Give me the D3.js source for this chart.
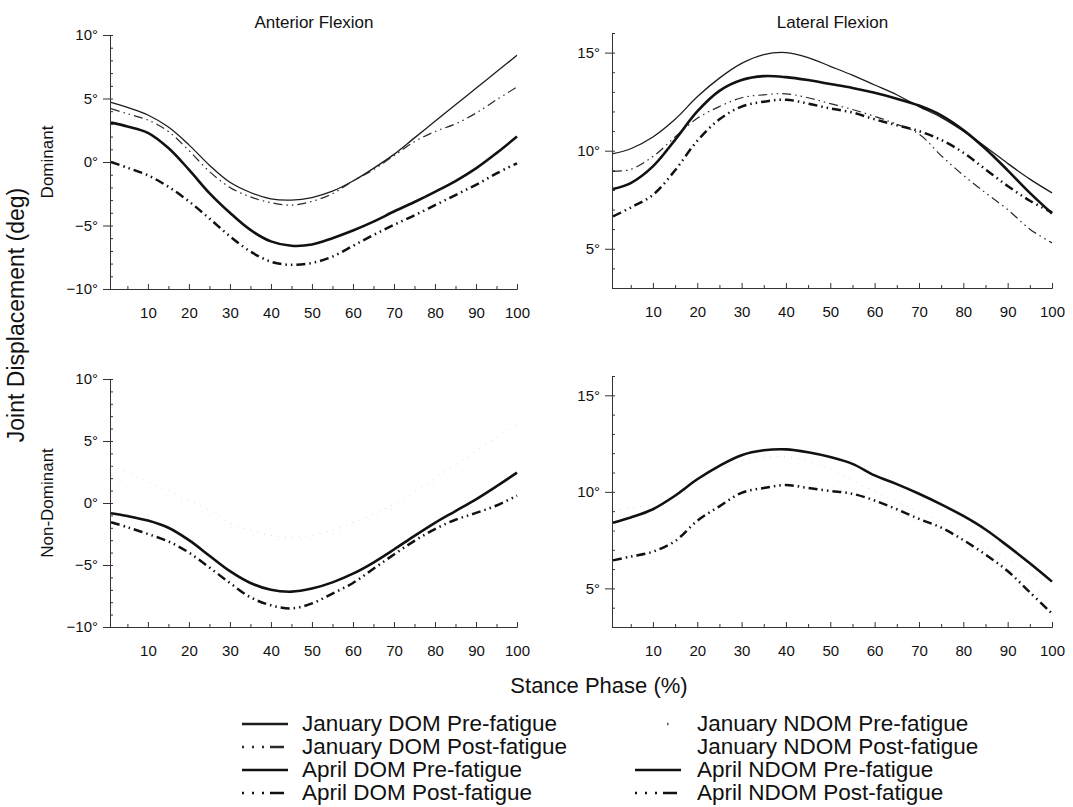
<!DOCTYPE html>
<html>
<head>
<meta charset="utf-8">
<script src="https://cdn.jsdelivr.net/npm/d3@7"></script>
<style>
  body { margin: 0; background: #fff; }
  svg { display: block; font-family: "Liberation Sans", Arial, Helvetica, sans-serif; }
  .axis path, .axis line { stroke: #333; stroke-width: 1; }
  .axis text { fill: #111; font-size: 15px; }
</style>
</head>
<body>
<svg width="1073" height="807"></svg>
<script>
// stance phase (%) sample points
const phase = [1, 5, 10, 15, 20, 25, 30, 35, 40, 45, 50, 55, 60, 65, 70, 75, 80, 85, 90, 95, 100];

// Anterior flexion, dominant side (deg)
const antDomJanPre  = [4.7, 4.3, 3.7, 2.75, 1.35, -0.25, -1.6, -2.4, -2.9, -3.0, -2.8, -2.3, -1.5, -0.5, 0.6, 1.9, 3.2, 4.5, 5.8, 7.1, 8.4];
const antDomJanPost = [4.2, 3.8, 3.3, 2.4, 0.9, -0.75, -2.0, -2.75, -3.2, -3.4, -3.1, -2.5, -1.5, -0.6, 0.5, 1.6, 2.4, 3.0, 3.85, 4.9, 5.9];
const antDomAprPre  = [3.1, 2.8, 2.3, 1.1, -0.6, -2.45, -4.0, -5.35, -6.25, -6.6, -6.5, -6.0, -5.4, -4.7, -3.9, -3.15, -2.35, -1.5, -0.5, 0.7, 2.0];
const antDomAprPost = [0.0, -0.45, -1.05, -1.95, -3.1, -4.45, -5.85, -7.05, -7.85, -8.1, -7.95, -7.45, -6.6, -5.75, -4.95, -4.2, -3.4, -2.6, -1.8, -0.9, -0.1];

// Lateral flexion, dominant side (deg)
const latDomJanPre  = [9.85, 10.1, 10.7, 11.6, 12.75, 13.7, 14.45, 14.9, 15.0, 14.75, 14.3, 13.85, 13.35, 12.85, 12.25, 11.7, 11.0, 10.2, 9.35, 8.55, 7.85];
const latDomJanPost = [8.95, 9.05, 9.7, 10.7, 11.65, 12.25, 12.7, 12.85, 12.9, 12.7, 12.4, 12.1, 11.75, 11.35, 10.85, 9.75, 8.75, 7.85, 7.0, 6.0, 5.3];
const latDomAprPre  = [8.05, 8.35, 9.2, 10.55, 12.0, 13.05, 13.6, 13.8, 13.75, 13.6, 13.4, 13.2, 12.95, 12.65, 12.3, 11.8, 11.05, 10.1, 9.0, 7.85, 6.8];
const latDomAprPost = [6.65, 7.1, 7.75, 9.0, 10.5, 11.6, 12.25, 12.5, 12.6, 12.4, 12.15, 11.95, 11.6, 11.3, 11.0, 10.55, 9.9, 9.05, 8.2, 7.45, 6.85];

// Anterior flexion, non-dominant side (deg)
const antNdomJanPre  = [3.0, 2.5, 1.7, 1.0, 0.2, -0.6, -1.6, -2.2, -2.6, -2.75, -2.6, -2.2, -1.6, -0.9, -0.1, 0.9, 2.0, 3.1, 4.2, 5.3, 6.3];
const antNdomJanPost = [1.5, 1.3, 1.0, 0.5, -0.2, -1.0, -1.9, -2.5, -2.9, -3.0, -2.9, -2.5, -1.9, -1.2, -0.4, 0.5, 1.4, 2.3, 3.1, 3.9, 4.6];
const antNdomAprPre  = [-0.83, -1.05, -1.42, -2.0, -3.0, -4.25, -5.5, -6.45, -7.0, -7.15, -6.9, -6.4, -5.7, -4.8, -3.75, -2.65, -1.6, -0.65, 0.3, 1.35, 2.45];
const antNdomAprPost = [-1.55, -1.95, -2.5, -3.1, -4.0, -5.2, -6.45, -7.6, -8.25, -8.5, -8.1, -7.3, -6.45, -5.3, -4.15, -3.05, -2.1, -1.35, -0.8, -0.2, 0.6];

// Lateral flexion, non-dominant side (deg)
const latNdomJanPre  = [9.05, 9.15, 9.4, 9.9, 10.6, 11.2, 11.6, 11.8, 11.8, 11.6, 11.2, 10.6, 10.0, 9.5, 9.0, 8.5, 7.9, 7.2, 6.5, 5.8, 5.1];
const latNdomJanPost = [8.0, 8.1, 8.4, 8.9, 9.6, 10.2, 10.6, 10.8, 10.8, 10.6, 10.3, 9.9, 9.4, 8.9, 8.4, 7.9, 7.3, 6.6, 5.9, 5.2, 4.5];
const latNdomAprPre  = [8.4, 8.67, 9.1, 9.8, 10.65, 11.35, 11.9, 12.15, 12.2, 12.05, 11.8, 11.45, 10.85, 10.4, 9.9, 9.35, 8.75, 8.05, 7.2, 6.3, 5.35];
const latNdomAprPost = [6.45, 6.65, 6.9, 7.45, 8.5, 9.25, 9.95, 10.2, 10.35, 10.2, 10.05, 9.9, 9.55, 9.1, 8.6, 8.15, 7.5, 6.75, 5.9, 4.8, 3.7];

const xTicks = [10, 20, 30, 40, 50, 60, 70, 80, 90, 100];
const antTicks = [-10, -5, 0, 5, 10];
const latTicks = [5, 10, 15];

const legendNames = ['January DOM Pre-fatigue', 'January DOM Post-fatigue', 'April DOM Pre-fatigue', 'April DOM Post-fatigue',
                     'January NDOM Pre-fatigue', 'January NDOM Post-fatigue', 'April NDOM Pre-fatigue', 'April NDOM Post-fatigue'];

// line looks, same order as legendNames
const dashDot = '9,4,1.5,4,1.5,4';
const styles = [
  { w: 1.3, c: '#1c1c1c', dash: null, ldash: null },
  { w: 1.2, c: '#2a2a2a', dash: dashDot, ldash: '2,8,2,8,2,6,14,40' },
  { w: 2.6, c: '#111', dash: null, ldash: null },
  { w: 2.5, c: '#111', dash: dashDot, ldash: '2,8,2,8,2,6,14,40' },
  { w: 1.0, c: '#dadada', dash: '1,6', ldash: '0,32,1.5,40' },
  { w: 1.0, c: '#ebebeb', dash: '1,7', ldash: '0,60' },
  { w: 2.6, c: '#111', dash: null, ldash: null },
  { w: 2.5, c: '#111', dash: dashDot, ldash: '2,8,2,8,2,6,14,40' }
];

const panels = [
  { title: 'Anterior Flexion', side: 'Dominant', xr: [111, 517], yr: [289, 35], dom: [-10, 10], ticks: antTicks,
    series: [[0, antDomJanPre], [1, antDomJanPost], [2, antDomAprPre], [3, antDomAprPost]] },
  { title: 'Lateral Flexion', side: null, xr: [613, 1052], yr: [288, 33], dom: [3, 16], ticks: latTicks,
    series: [[0, latDomJanPre], [1, latDomJanPost], [2, latDomAprPre], [3, latDomAprPost]] },
  { title: null, side: 'Non-Dominant', xr: [111, 517], yr: [627, 379], dom: [-10, 10], ticks: antTicks,
    series: [[5, antNdomJanPost], [4, antNdomJanPre], [6, antNdomAprPre], [7, antNdomAprPost]] },
  { title: null, side: null, xr: [613, 1052], yr: [627, 376], dom: [3, 16], ticks: latTicks,
    series: [[5, latNdomJanPost], [4, latNdomJanPre], [6, latNdomAprPre], [7, latNdomAprPost]] }
];

const svg = d3.select('svg');
const deg = d => (d < 0 ? '\u2212' : '') + Math.abs(d) + '\u00b0';

panels.forEach(p => {
  const x = d3.scaleLinear().domain([1, 100]).range(p.xr);
  const y = d3.scaleLinear().domain(p.dom).range(p.yr);
  const g = svg.append('g');

  // minor ticks every degree / every 5 %
  g.append('g').attr('class', 'axis').attr('transform', `translate(${p.xr[0] - 1},0)`)
    .call(d3.axisLeft(y).tickValues(d3.range(p.dom[0], p.dom[1] + 1)).tickSize(-3).tickSizeOuter(0).tickFormat(''));
  g.append('g').attr('class', 'axis').attr('transform', `translate(0,${p.yr[0]})`)
    .call(d3.axisBottom(x).tickValues(d3.range(5, 100, 10)).tickSize(-3).tickSizeOuter(0).tickFormat(''));

  g.append('g').attr('class', 'axis').attr('transform', `translate(${p.xr[0] - 1},0)`)
    .call(d3.axisLeft(y).tickValues(p.ticks).tickSize(7).tickSizeOuter(0).tickPadding(5).tickFormat(deg));
  g.append('g').attr('class', 'axis').attr('transform', `translate(0,${p.yr[0]})`)
    .call(d3.axisBottom(x).tickValues(xTicks).tickSize(-5).tickSizeOuter(0).tickPadding(18));

  const line = d3.line().x((d, i) => x(phase[i])).y(d => y(d)).curve(d3.curveCatmullRom.alpha(0.5));
  p.series.forEach(([k, vals]) => {
    const s = styles[k];
    g.append('path').datum(vals)
      .attr('d', line)
      .attr('fill', 'none')
      .attr('stroke', s.c)
      .attr('stroke-width', s.w)
      .attr('stroke-dasharray', s.dash);
  });

  const cx = (p.xr[0] + p.xr[1]) / 2, cy = (p.yr[0] + p.yr[1]) / 2;
  if (p.title) {
    svg.append('text').attr('x', cx).attr('y', 28).attr('text-anchor', 'middle')
      .attr('font-size', 17).attr('fill', '#111').text(p.title);
  }
  if (p.side) {
    svg.append('text').attr('transform', `translate(53,${cy}) rotate(-90)`)
      .attr('text-anchor', 'middle').attr('font-size', 17).attr('fill', '#111').text(p.side);
  }
});

svg.append('text').attr('transform', 'translate(24,315) rotate(-90)').attr('text-anchor', 'middle')
  .attr('font-size', 23).attr('fill', '#111').text('Joint Displacement (deg)');
svg.append('text').attr('x', 599).attr('y', 693).attr('text-anchor', 'middle')
  .attr('font-size', 22).attr('fill', '#111').text('Stance Phase (%)');

// legend, two columns of four
const legend = svg.append('g');
legendNames.forEach((name, i) => {
  const col = Math.floor(i / 4), row = i % 4;
  const lx = col === 0 ? 242 : 635;
  const ly = 731 + row * 23;
  const s = styles[i];
  legend.append('line').attr('x1', lx).attr('x2', lx + 46).attr('y1', ly - 7).attr('y2', ly - 7)
    .attr('stroke', i >= 4 && i < 6 ? '#555' : s.c)
    .attr('stroke-width', s.w < 2 ? 2.6 : s.w)
    .attr('stroke-dasharray', s.ldash);
  legend.append('text').attr('x', lx + (col === 0 ? 60 : 62)).attr('y', ly)
    .attr('font-size', 22.5).attr('fill', '#111').text(name);
});
</script>
</body>
</html>
